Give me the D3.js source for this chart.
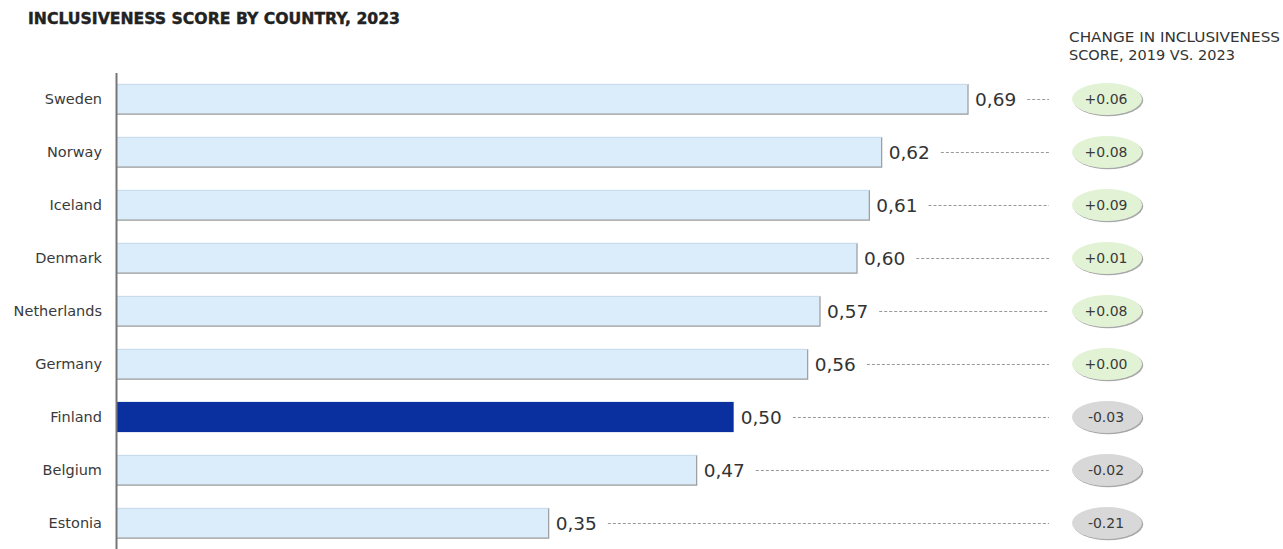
<!DOCTYPE html>
<html>
<head>
<meta charset="utf-8">
<script src="https://cdn.jsdelivr.net/npm/d3@7"></script>
<style>
  html, body { margin: 0; padding: 0; background: #fff; }
  svg { display: block; }
  text { font-family: "DejaVu Sans", sans-serif; }
</style>
</head>
<body>
<svg id="chart" width="1283" height="549"></svg>
<script>
// Inclusiveness score by country, 2023, with change since 2019
const countries = ["Sweden", "Norway", "Iceland", "Denmark", "Netherlands", "Germany", "Finland", "Belgium", "Estonia"];
const scores = [0.69, 0.62, 0.61, 0.60, 0.57, 0.56, 0.50, 0.47, 0.35];
const changes = [0.06, 0.08, 0.09, 0.01, 0.08, 0.00, -0.03, -0.02, -0.21];
const highlight = "Finland";

const rows = countries.map((c, i) => ({ country: c, score: scores[i], change: changes[i] }));

const svg = d3.select("#chart");
const defs = svg.append("defs");
defs.append("filter").attr("id", "soft")
  .append("feGaussianBlur").attr("stdDeviation", 0.6);

const x = d3.scaleLinear().domain([0, 0.69]).range([117, 968]);
const y = d3.scaleBand().domain(countries).range([72.5, 549.5]).paddingInner(0.43).paddingOuter(0.215);

const dashEnd = 1049;
const pillX = 1107;

// Title
svg.append("text")
  .attr("x", 28).attr("y", 24)
  .attr("font-family", "'DejaVu Sans Condensed', 'DejaVu Sans', sans-serif")
  .attr("font-weight", "bold")
  .attr("font-size", 15)
  .attr("fill", "#222")
  .attr("stroke", "#222").attr("stroke-width", 0.4)
  .attr("textLength", 372)
  .attr("lengthAdjust", "spacingAndGlyphs")
  .text("INCLUSIVENESS SCORE BY COUNTRY, 2023");

// Right-hand column header
const hdrFont = "'DejaVu Sans Condensed', 'DejaVu Sans', sans-serif";
svg.append("text")
  .attr("x", 1069).attr("y", 42)
  .attr("font-family", hdrFont)
  .attr("font-size", 13.5)
  .attr("fill", "#333")
  .attr("textLength", 211).attr("lengthAdjust", "spacingAndGlyphs")
  .text("CHANGE IN INCLUSIVENESS");
svg.append("text")
  .attr("x", 1069).attr("y", 60)
  .attr("font-family", hdrFont)
  .attr("font-size", 13.5)
  .attr("fill", "#333")
  .attr("textLength", 166).attr("lengthAdjust", "spacingAndGlyphs")
  .text("SCORE, 2019 VS. 2023");

// Bars
const bars = svg.append("g");
const bh = y.bandwidth();
rows.forEach(d => {
  const y0 = y(d.country);
  const isHi = d.country === highlight;
  bars.append("rect")
    .attr("x", x(0)).attr("y", y0)
    .attr("width", x(d.score) - x(0)).attr("height", bh)
    .attr("fill", isHi ? "#0a2f9e" : "#dbedfb");
  if (!isHi) {
    // thin shadow edge on the right and bottom
    bars.append("path")
      .attr("d", `M${x(0)},${y0 + bh}H${x(d.score)}V${y0}`)
      .attr("fill", "none")
      .attr("stroke", "#9a9a9a")
      .attr("stroke-width", 1.2);
    bars.append("line")
      .attr("x1", x(0)).attr("x2", x(d.score))
      .attr("y1", y0 + 0.5).attr("y2", y0 + 0.5)
      .attr("stroke", "#c6dbea").attr("stroke-width", 1);
  }
});

// Axis line with country labels
const axis = d3.axisLeft(y).tickSize(0).tickPadding(14);
const axG = svg.append("g").attr("transform", `translate(${x(0) - 1},0)`).call(axis);
axG.select(".domain").attr("stroke", "#777").attr("stroke-width", 2);
axG.selectAll(".tick text")
  .attr("font-family", "'DejaVu Sans', sans-serif")
  .attr("font-size", 14.5)
  .attr("dy", "0.36em")
  .attr("fill", "#3a3a3a");

// Value labels and leader lines
const fmt = v => d3.format(".2f")(v).replace(".", ",");
rows.forEach(d => {
  const cy = y(d.country) + bh / 2;
  const lbl = svg.append("text")
    .attr("x", x(d.score) + 7).attr("y", cy + 6.5)
    .attr("font-size", 18.5)
    .attr("fill", "#333")
    .text(fmt(d.score));
  const w = lbl.node().getComputedTextLength();
  svg.append("line")
    .attr("x1", x(d.score) + 7 + w + 11).attr("x2", dashEnd)
    .attr("y1", cy + 0.5).attr("y2", cy + 0.5)
    .attr("stroke", "#999").attr("stroke-width", 1)
    .attr("stroke-dasharray", "3,2");
});

// Change pills
const fmtChange = v => (v >= 0 ? "+" : "-") + d3.format(".2f")(Math.abs(v));
rows.forEach(d => {
  const cy = y(d.country) + bh / 2;
  const pos = d.change >= 0;
  svg.append("ellipse")
    .attr("cx", pillX + 1.2).attr("cy", cy + 1.2)
    .attr("rx", 35).attr("ry", 16)
    .attr("fill", "#6f6f6f").attr("opacity", 0.6)
    .attr("filter", "url(#soft)");
  svg.append("ellipse")
    .attr("cx", pillX).attr("cy", cy)
    .attr("rx", 35).attr("ry", 16)
    .attr("fill", pos ? "#e2f3d5" : "#d8d8d8");
  svg.append("text")
    .attr("x", pillX - 1).attr("y", cy + 5)
    .attr("text-anchor", "middle")
    .attr("font-size", 14)
    .attr("fill", "#3a3a3a")
    .text(fmtChange(d.change));
});
</script>
</body>
</html>
